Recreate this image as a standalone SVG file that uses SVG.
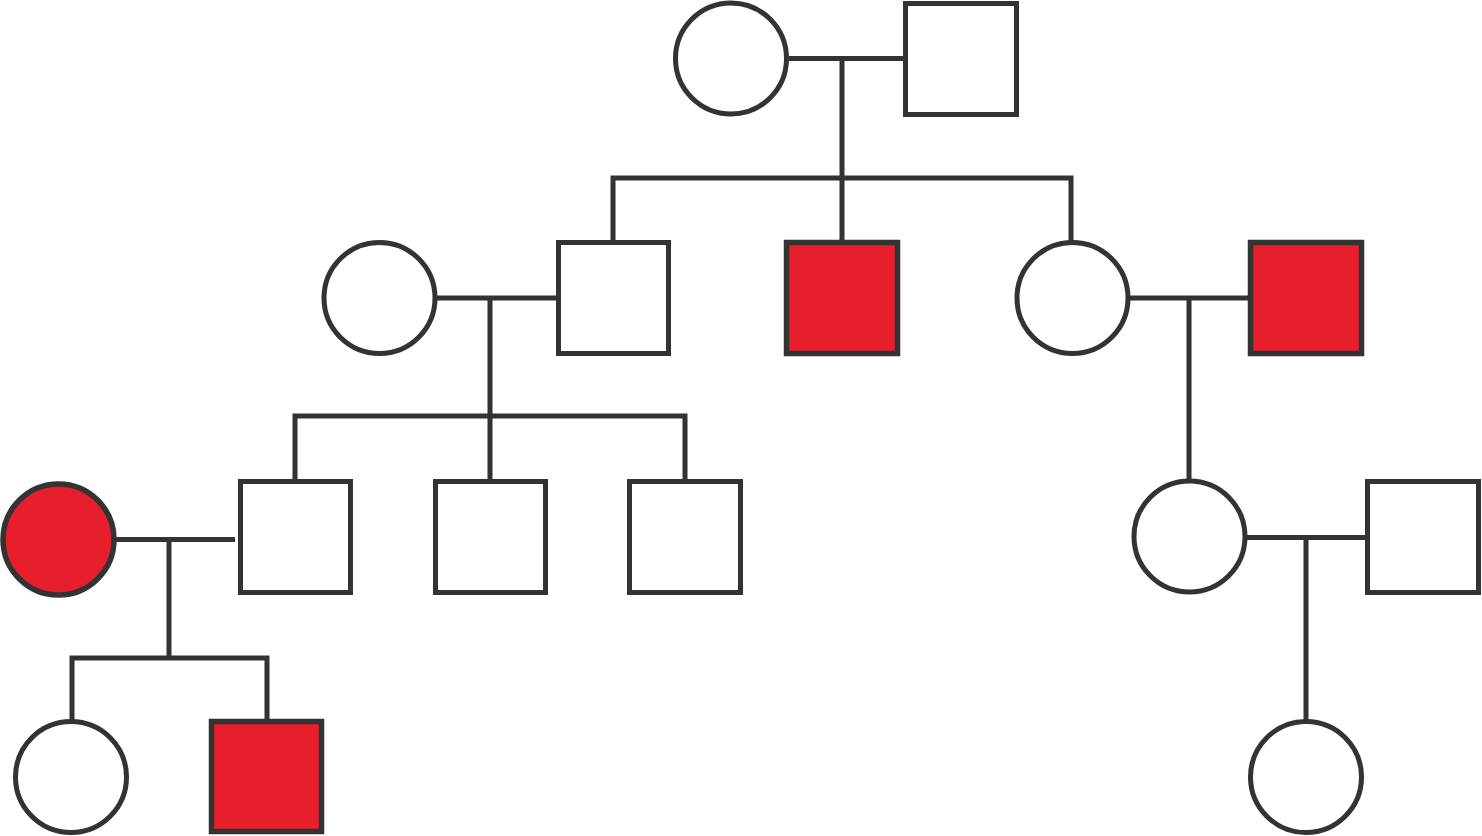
<svg xmlns="http://www.w3.org/2000/svg" width="1482" height="836" viewBox="0 0 1482 836">
<style>
.n{fill:#fff;stroke:#333;stroke-width:5}
.a{fill:#e71f2c;stroke:#333;stroke-width:5.5}
.c{fill:none;stroke:#333;stroke-width:5;stroke-linejoin:miter}
</style>
<rect width="1482" height="836" fill="#fff"/>
<g id="connectors">
<path class="c" d="M789 58.5H905M842 58.5V242M613 242V178H1071V242"/>
<path class="c" d="M435 298H558M490 298V481M295 481V416H685V481"/>
<path class="c" d="M1128 298H1250M1189 298V481"/>
<path class="c" d="M114 539.5H235M169 539.5V658M72 721V658H267V721"/>
<path class="c" d="M1245 537.5H1367M1306 537.5V721"/>
</g>
<g id="g1-mother"><circle class="n" cx="731" cy="58.5" r="55.5"/></g>
<g id="g1-father"><rect class="n" x="905.5" y="3.5" width="111" height="111"/></g>
<g id="g2-wife"><circle class="n" cx="379.5" cy="298" r="55.5"/></g>
<g id="g2-son1"><rect class="n" x="558.5" y="242.5" width="110" height="111"/></g>
<g id="g2-son2"><rect class="a" x="786.5" y="242.5" width="111" height="111"/></g>
<g id="g2-daughter"><circle class="n" cx="1072.5" cy="298" r="55.5"/></g>
<g id="g2-husband"><rect class="a" x="1250.5" y="242.5" width="111" height="111"/></g>
<g id="g3-wife"><circle class="a" cx="58.5" cy="539.5" r="55.5"/></g>
<g id="g3-son1"><rect class="n" x="240.5" y="481.5" width="110" height="111"/></g>
<g id="g3-son2"><rect class="n" x="435.5" y="481.5" width="110" height="111"/></g>
<g id="g3-son3"><rect class="n" x="629.5" y="481.5" width="111" height="111"/></g>
<g id="g3-daughter"><circle class="n" cx="1189.5" cy="536.5" r="55.5"/></g>
<g id="g3-husband"><rect class="n" x="1367.5" y="481.5" width="111" height="111"/></g>
<g id="g4-daughter1"><circle class="n" cx="71" cy="777" r="55.5"/></g>
<g id="g4-son"><rect class="a" x="211.5" y="721.5" width="110" height="110"/></g>
<g id="g4-daughter2"><circle class="n" cx="1306" cy="777" r="55.5"/></g>
</svg>
